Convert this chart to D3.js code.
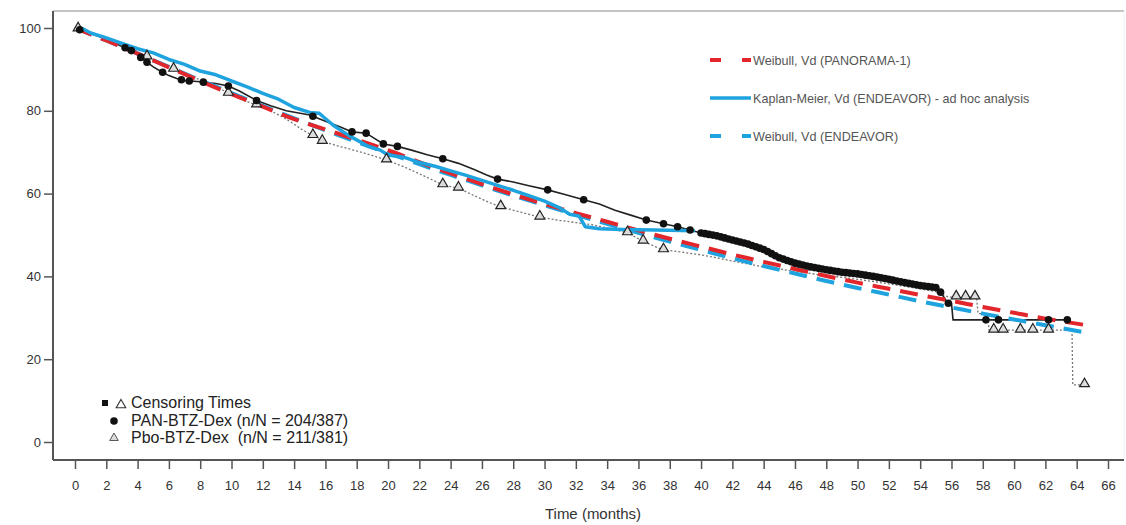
<!DOCTYPE html>
<html><head><meta charset="utf-8">
<script src="https://cdn.jsdelivr.net/npm/d3@7"></script>
<style>body{margin:0;background:#fff}svg{display:block}text{font-family:"Liberation Sans",Arial,sans-serif}</style>
</head><body>
<svg id="chart" width="1126" height="525"></svg>
<script>
// ---- data ----
const xTicks = [0,2,4,6,8,10,12,14,16,18,20,22,24,26,28,30,32,34,36,38,40,42,44,46,48,50,52,54,56,58,60,62,64,66];
const yTicks = [0,20,40,60,80,100];

// Weibull, Vd (PANORAMA-1)
const weibullPan = [[0,100],[2,97],[4,93.8],[6,90.5],[8,87.2],[10,84],[12,81],[14,78],[16,75.5],[18,73],[20,70.5],[22,67.6],[24,64.9],[26,62.3],[28,59.8],[30,57.5],[32,55.3],[34,53.2],[36,51.1],[38,49.1],[40,47.2],[42,45.3],[44,43.5],[46,41.8],[48,40.1],[50,38.5],[52,37],[54,35.5],[56,34.1],[58,32.6],[60,31.2],[62,29.8],[64.5,28.3]];
// Weibull, Vd (ENDEAVOR)
const weibullEnd = [[0,100],[2,97],[4,93.8],[6,90.6],[8,87.4],[10,84.3],[12,81.2],[14,78.2],[16,75.3],[18,72.5],[20,69.8],[22,67.1],[24,64.5],[26,62],[28,59.5],[30,57.2],[32,54.9],[34,52.7],[36,50.5],[38,48.4],[40,46.4],[42,44.4],[44,42.5],[46,40.7],[48,38.9],[50,37.2],[52,35.6],[54,34],[56,32.5],[58,31],[60,29.6],[62,28.2],[64.5,26.5]];
// Kaplan-Meier, Vd (ENDEAVOR)
const kmEndeavor = [[0,100],[0.5,99.8],[1,98.8],[2,97.6],[3,96.3],[4,95],[5,94],[6,92.4],[7,91.2],[8,89.6],[9,88.7],[10,87.2],[11,85.8],[12,84.2],[13,82.8],[14,80.8],[15,79.6],[15.6,79.4],[16.5,76.5],[17.5,74],[18.7,71.5],[19.5,70.5],[20,69.3],[21,68.8],[22,67.5],[23,66.6],[24,65.5],[25,64.4],[26,63.2],[27,62],[28,60.8],[29,59.5],[30,58.2],[31,56.5],[31.6,55],[32.2,54.6],[32.6,52],[33.5,51.5],[35,51.3],[37,51.2],[39.6,51]];
// PAN-BTZ-Dex
const panCurve = [[0,100],[0.5,99.3],[1,98.7],[1.5,98],[2,97.3],[2.5,96.5],[3,95.5],[3.5,94.8],[4,93.5],[4.5,92],[5,90.6],[5.5,89.5],[6,88.5],[6.5,87.8],[7,87.3],[8,87],[9,86.6],[9.8,86],[10.5,84.8],[11.6,82.5],[12.5,81.2],[13.5,80],[15,79],[16,77.5],[17,76],[17.7,74.9],[18.6,74.6],[19.7,72],[20.6,71.4],[21.5,70.5],[22.5,69.4],[23.5,68.4],[24.5,67.3],[25.5,65.8],[26.3,64.5],[27,63.5],[28,62.8],[29,61.9],[30.2,60.9],[31.3,59.8],[32.5,58.5],[33.5,57.5],[34.5,56],[35.5,54.8],[36.5,53.6],[37.6,52.7],[38.5,52],[39.3,51.2],[40,50.5],[41,49.8],[42,48.8],[43,47.8],[44,46.5],[45,44.5],[46,43.2],[47,42.3],[48,41.6],[49,41],[50,40.6],[51,40],[52,39.3],[53,38.5],[54,37.8],[55,37.3],[55.3,36.2],[55.6,34.5],[55.8,33.5],[56,33.5],[56.1,29.5],[63.4,29.5]];
const panCensor = [0.3,3.2,3.6,4.2,4.6,5.6,6.8,7.3,8.2,9.8,11.6,15.2,17.7,18.6,19.7,20.6,23.5,27,30.2,32.5,36.5,37.6,38.5,39.3,
  40,40.25,40.5,40.75,41,41.25,41.5,41.75,42,42.25,42.5,42.75,43,43.25,43.5,43.75,44,44.25,44.5,44.75,45,45.25,45.5,45.75,
  46,46.25,46.5,46.75,47,47.25,47.5,47.75,48,48.25,48.5,48.75,49,49.25,49.5,49.75,50,50.25,50.5,50.75,51,51.25,51.5,51.75,
  52,52.25,52.5,52.75,53,53.25,53.5,53.75,54,54.25,54.5,54.75,55,55.3,55.8,58.2,59,62.2,63.4];
// Pbo-BTZ-Dex
const pboCurve = [[0,100],[1,98.8],[2,97.5],[3,96],[4,94.3],[4.6,93],[5.5,91.5],[6.3,90],[7,88.8],[8,87.5],[9,86],[9.8,84.2],[10.8,82.5],[11.6,81.4],[12.5,80],[13.5,78],[14.5,75.5],[15.2,74],[15.8,72.6],[17,71.3],[18,70.3],[19,69.2],[19.9,68.1],[21,66.5],[22,64.8],[23,63],[23.5,62.1],[24.5,61.3],[25.5,59.5],[26.5,57.8],[27.2,56.8],[28.5,55.5],[29.7,54.3],[31,53.5],[32,53],[33,52.5],[34,51.7],[35.3,50.5],[36.3,48.5],[37,47.3],[37.6,46.4],[38.5,46],[40,45.2],[41,44.5],[42,43.7],[43,43],[44,42.3],[45,41.8],[46,41.2],[48,40.2],[50,39.3],[52,38.2],[54,37],[55,36.3],[55.8,35],[57.6,35],[57.7,31],[58.3,31],[58.4,27],[63.7,27],[63.75,13.8],[64.5,13.8]];
const pboCensor = [0.2,4.6,6.3,9.8,11.6,15.2,15.8,19.9,23.5,24.5,27.2,29.7,35.3,36.3,37.6,56.3,56.9,57.5,58.7,59.3,60.4,61.2,62.2,64.5];

const legendTop = ["Weibull, Vd (PANORAMA-1)","Kaplan-Meier, Vd (ENDEAVOR) - ad hoc analysis","Weibull, Vd (ENDEAVOR)"];
const legendBottom = ["Censoring Times","PAN-BTZ-Dex (n/N = 204/387)","Pbo-BTZ-Dex  (n/N = 211/381)"];

// ---- drawing ----
const svg = d3.select("#chart");
const RED = "#e3262b", BLUE = "#1fa3df";
const x = d3.scaleLinear().domain([0,66]).range([75,1108]);
const y = d3.scaleLinear().domain([0,100]).range([442,28]);
const pLeft = 53, pTop = 11, pBottom = 460, pRight = 1124;

// frame
svg.append("line").attr("x1",pLeft).attr("x2",pRight).attr("y1",pTop).attr("y2",pTop).attr("stroke","#c4c4c4").attr("stroke-width",2);
svg.append("line").attr("x1",pRight).attr("x2",pRight).attr("y1",pTop).attr("y2",pBottom).attr("stroke","#f0f0f0").attr("stroke-width",1);

// axes
const yAxis = d3.axisLeft(y).tickValues(yTicks).tickSize(9).tickPadding(3);
const gy = svg.append("g").attr("transform",`translate(${pLeft},0)`).call(yAxis);
gy.select(".domain").attr("d",`M0,${pTop}V${pBottom}`).attr("stroke","#555").attr("stroke-width",2);
const xAxis = d3.axisBottom(x).tickValues(xTicks).tickSize(9).tickPadding(12);
const gx = svg.append("g").attr("transform",`translate(0,${pBottom})`).call(xAxis);
gx.select(".domain").attr("d",`M${pLeft},0H${pRight}`).attr("stroke","#555").attr("stroke-width",2);
[gx,gy].forEach(g=>{
  g.selectAll(".tick line").attr("stroke","#555").attr("stroke-width",1.5);
  g.selectAll(".tick text").attr("font-size",13).attr("fill","#333").attr("font-family","'Liberation Sans',Arial,sans-serif");
});
svg.append("text").attr("x",593).attr("y",519).attr("text-anchor","middle").attr("font-size",15).attr("fill","#333").text("Time (months)");

const line = d3.line().x(d=>x(d[0])).y(d=>y(d[1]));
const smooth = d3.line().x(d=>x(d[0])).y(d=>y(d[1])).curve(d3.curveMonotoneX);

svg.append("path").datum(pboCurve).attr("d",line).attr("fill","none").attr("stroke","#777").attr("stroke-width",1.3).attr("stroke-dasharray","2,2");
svg.append("path").datum(panCurve).attr("d",line).attr("fill","none").attr("stroke","#222").attr("stroke-width",1.6);
svg.append("path").datum(weibullEnd).attr("d",smooth).attr("fill","none").attr("stroke",BLUE).attr("stroke-width",4).attr("stroke-dasharray","18,10");
svg.append("path").datum(weibullPan).attr("d",smooth).attr("fill","none").attr("stroke",RED).attr("stroke-width",4).attr("stroke-dasharray","18,10");
svg.append("path").datum(kmEndeavor).attr("d",line).attr("fill","none").attr("stroke",BLUE).attr("stroke-width",3.5).attr("stroke-linejoin","round");

function valueAt(curve, t){
  let v = curve[0][1];
  for (let i=1;i<curve.length;i++){
    const [t0,v0]=curve[i-1],[t1,v1]=curve[i];
    if (t>=t0 && t<=t1){ return t1===t0?v1:v0+(v1-v0)*(t-t0)/(t1-t0); }
    v=v1;
  }
  return v;
}
const tri = d3.symbol().type(d3.symbolTriangle).size(42);
svg.append("g").selectAll("path").data(pboCensor).join("path")
  .attr("d",tri).attr("transform",t=>`translate(${x(t)},${y(valueAt(pboCurve,t))-1})`)
  .attr("fill","#ddd").attr("stroke","#222").attr("stroke-width",1.2);
svg.append("g").selectAll("circle").data(panCensor).join("circle")
  .attr("cx",t=>x(t)).attr("cy",t=>y(valueAt(panCurve,t))).attr("r",3.8).attr("fill","#111");

// top-right legend
const lt = svg.append("g");
const styles = [{c:RED,dash:"11,21",w:4},{c:BLUE,dash:null,w:3.5},{c:BLUE,dash:"11,21",w:4}];
legendTop.forEach((s,i)=>{
  const yy = 60 + i*38;
  lt.append("line").attr("x1",710).attr("x2",751).attr("y1",yy).attr("y2",yy).attr("stroke",styles[i].c).attr("stroke-width",styles[i].w).attr("stroke-dasharray",styles[i].dash);
  lt.append("text").attr("x",753).attr("y",yy+4.5).attr("font-size",12.6).attr("fill","#555").text(s);
});

// bottom-left legend
const lb = svg.append("g");
lb.append("rect").attr("x",102).attr("y",400).attr("width",6).attr("height",6).attr("fill","#111");
lb.append("path").attr("d",d3.symbol().type(d3.symbolTriangle).size(40)).attr("transform","translate(121,405)").attr("fill","#fff").attr("stroke","#333").attr("stroke-width",1.1);
lb.append("circle").attr("cx",114).attr("cy",421).attr("r",3.8).attr("fill","#111");
lb.append("path").attr("d",d3.symbol().type(d3.symbolTriangle).size(32)).attr("transform","translate(114,438)").attr("fill","#ddd").attr("stroke","#555").attr("stroke-width",1);
legendBottom.forEach((s,i)=>{
  lb.append("text").attr("x",131).attr("y",408+i*17.5).attr("font-size",16).attr("fill","#222").style("white-space","pre").text(s);
});
</script>
</body></html>
